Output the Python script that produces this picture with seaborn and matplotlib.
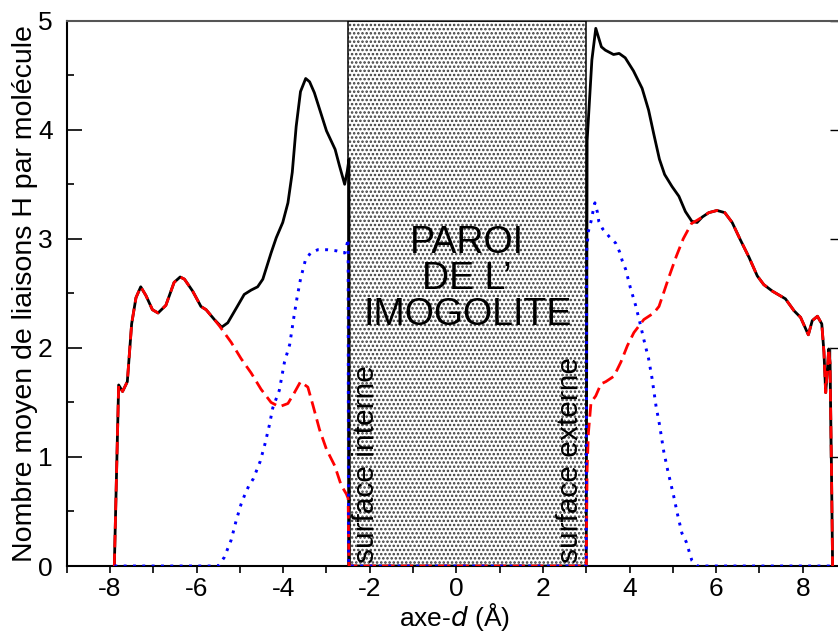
import matplotlib
matplotlib.use("Agg")
import matplotlib.pyplot as plt
from matplotlib.patches import Rectangle
import seaborn as sns
import pandas as pd

# --- données ---
# total (trait noir)
total_x = [-7.90, -7.80, -7.71, -7.60, -7.50, -7.40, -7.29, -7.17, -7.02, -6.89,
           -6.71, -6.52, -6.38, -6.28, -6.09, -5.90, -5.78, -5.59, -5.42, -5.28,
           -5.06, -4.90, -4.74, -4.59, -4.47, -4.28, -4.16, -4.01, -3.89, -3.79,
           -3.70, -3.60, -3.48, -3.39, -3.28, -3.12, -3.00, -2.80, -2.70, -2.58,
           -2.52, -2.48, -2.47, 3.00, 3.02, 3.13, 3.22, 3.35, 3.44, 3.63,
           3.76, 3.90, 4.09, 4.29, 4.44, 4.56, 4.69, 4.81, 4.98, 5.14,
           5.29, 5.44, 5.56, 5.68, 5.83, 6.02, 6.20, 6.37, 6.56, 6.76,
           6.95, 7.10, 7.30, 7.60, 7.80, 7.95, 8.13, 8.22, 8.34, 8.44,
           8.49, 8.53, 8.57, 8.60, 8.63, 8.66, 8.69]
total_y = [0.00, 1.66, 1.60, 1.69, 2.22, 2.46, 2.56, 2.48, 2.35, 2.32,
           2.39, 2.60, 2.65, 2.63, 2.52, 2.38, 2.35, 2.26, 2.19, 2.23,
           2.38, 2.49, 2.53, 2.56, 2.63, 2.87, 3.01, 3.15, 3.33, 3.61,
           4.03, 4.35, 4.47, 4.44, 4.34, 4.14, 3.99, 3.82, 3.67, 3.50,
           3.62, 3.73, 0.00, 0.00, 3.90, 4.64, 4.93, 4.76, 4.73, 4.69,
           4.70, 4.66, 4.54, 4.38, 4.18, 3.96, 3.73, 3.59, 3.48, 3.39,
           3.25, 3.16, 3.15, 3.20, 3.24, 3.26, 3.24, 3.15, 2.99, 2.83,
           2.66, 2.58, 2.52, 2.45, 2.34, 2.28, 2.12, 2.25, 2.29, 2.22,
           1.96, 1.59, 1.80, 1.99, 1.86, 1.01, 0.00]

# liaisons eau-eau (tirets rouges)
eau_x = [-7.90, -7.80, -7.71, -7.60, -7.50, -7.40, -7.29, -7.17, -7.02, -6.89,
         -6.71, -6.52, -6.38, -6.28, -6.09, -5.90, -5.78, -5.59, -5.47, -5.20,
         -4.97, -4.74, -4.51, -4.28, -4.09, -3.89, -3.74, -3.60, -3.43, -3.31,
         -3.16, -3.00, -2.81, -2.66, -2.54, -2.50, -2.48, 3.00, 3.02, 3.05,
         3.11, 3.22, 3.34, 3.45, 3.64, 3.80, 3.95, 4.10, 4.33, 4.56,
         4.68, 4.80, 4.91, 5.08, 5.24, 5.43, 5.56, 5.68, 5.83, 6.02,
         6.20, 6.37, 6.56, 6.76, 6.95, 7.10, 7.30, 7.60, 7.80, 7.95,
         8.13, 8.22, 8.34, 8.44, 8.49, 8.53, 8.57, 8.60, 8.63, 8.66, 8.69]
eau_y = [0.00, 1.66, 1.60, 1.69, 2.22, 2.46, 2.56, 2.48, 2.35, 2.32,
         2.39, 2.60, 2.65, 2.63, 2.52, 2.38, 2.35, 2.26, 2.20, 2.05,
         1.90, 1.77, 1.62, 1.50, 1.46, 1.49, 1.59, 1.69, 1.64, 1.47,
         1.25, 1.07, 0.92, 0.74, 0.66, 0.62, 0.00, 0.00, 0.89, 1.22,
         1.50, 1.56, 1.67, 1.69, 1.74, 1.87, 2.02, 2.14, 2.26, 2.32,
         2.38, 2.52, 2.65, 2.84, 3.00, 3.14, 3.17, 3.20, 3.24, 3.26,
         3.24, 3.15, 2.99, 2.83, 2.66, 2.58, 2.52, 2.45, 2.34, 2.28,
         2.12, 2.25, 2.29, 2.22, 1.96, 1.59, 1.80, 1.99, 1.86, 1.01, 0.00]

# liaisons eau-paroi (pointillés bleus)
paroi_x = [-7.90, -5.50, -5.36, -5.20, -5.09, -4.97, -4.90, -4.80, -4.69, -4.53,
           -4.42, -4.32, -4.24, -4.09, -3.97, -3.85, -3.75, -3.68, -3.60, -3.49,
           -3.37, -3.20, -2.98, -2.77, -2.58, -2.52, -2.50, -2.49, 3.00, 3.01,
           3.05, 3.11, 3.15, 3.20, 3.26, 3.29, 3.38, 3.53, 3.68, 3.77,
           3.83, 3.91, 4.02, 4.14, 4.24, 4.34, 4.44, 4.52, 4.61, 4.69,
           4.79, 4.88, 5.02, 5.11, 5.21, 5.31, 5.44, 5.56, 8.63]
paroi_y = [0.00, 0.00, 0.08, 0.24, 0.41, 0.57, 0.64, 0.73, 0.80, 0.96,
           1.12, 1.29, 1.45, 1.61, 1.87, 2.03, 2.29, 2.46, 2.63, 2.80,
           2.87, 2.90, 2.90, 2.89, 2.87, 2.96, 3.00, 0.00, 0.00, 2.90,
           3.07, 3.16, 3.24, 3.33, 3.24, 3.16, 3.09, 3.02, 2.96, 2.88,
           2.80, 2.72, 2.55, 2.39, 2.23, 2.06, 1.90, 1.72, 1.47, 1.30,
           1.05, 0.88, 0.64, 0.47, 0.30, 0.22, 0.05, 0.00, 0.00]

paroi_gauche, paroi_droite = -2.5, 3.0

df_total = pd.DataFrame({"d": total_x, "n": total_y})
df_eau = pd.DataFrame({"d": eau_x, "n": eau_y})
df_paroi = pd.DataFrame({"d": paroi_x, "n": paroi_y})

sns.set_style("ticks")
plt.rcParams["font.family"] = ["Liberation Sans", "DejaVu Sans"]
plt.rcParams["hatch.linewidth"] = 1.2
plt.rcParams["axes.unicode_minus"] = False
for k in ["text.color", "axes.labelcolor", "xtick.color", "ytick.color"]:
    plt.rcParams[k] = "black"

fig = plt.figure(figsize=(8.38, 6.34), dpi=100)
ax = fig.add_axes([66.7 / 838, 68 / 634, 775 / 838, 545.3 / 634])

# paroi de l'imogolite (zone pointillée)
ax.add_patch(Rectangle((paroi_gauche, 0), paroi_droite - paroi_gauche, 5,
                       facecolor="white", edgecolor="#3a3a3a", hatch="....",
                       linewidth=0, zorder=1))
ax.add_patch(Rectangle((paroi_gauche, 0), paroi_droite - paroi_gauche, 5,
                       fill=False, edgecolor="black", linewidth=1.1, zorder=4))

sns.lineplot(data=df_total, x="d", y="n", ax=ax, sort=False, estimator=None,
             color="black", linewidth=2.0, zorder=5)
sns.lineplot(data=df_eau, x="d", y="n", ax=ax, sort=False, estimator=None,
             color="red", linewidth=2.0, linestyle=(0, (4.5, 2.2)), zorder=6)
sns.lineplot(data=df_paroi, x="d", y="n", ax=ax, sort=False, estimator=None,
             color="blue", linewidth=2.1, linestyle=(0, (1, 2.2)), zorder=7)

ax.set_xlim(-9, 8.9)
ax.set_ylim(0, 5)
ax.set_xticks([-8, -6, -4, -2, 0, 2, 4, 6, 8])
ax.set_xticks(range(-9, 9), minor=True)
ax.set_yticks([0, 1, 2, 3, 4, 5])
ax.set_yticks([0.5, 1.5, 2.5, 3.5, 4.5], minor=True)
ax.tick_params(axis="x", which="both", direction="out", length=5, width=1.2,
               labelsize=19, pad=3)
ax.tick_params(axis="y", which="major", direction="in", length=11, width=1.2,
               labelsize=19, pad=10)
ax.tick_params(axis="y", which="minor", direction="in", length=5, width=1.2)

for s in ["left", "bottom"]:
    ax.spines[s].set_linewidth(1.5)
    ax.spines[s].set_color("black")
ax.spines["top"].set_color("#555555")
ax.spines["top"].set_linewidth(1.5)
ax.spines["right"].set_visible(False)

# graduations de droite (coupées par le bord)
sec = ax.secondary_yaxis((8.63 + 9) / 17.9)
sec.set_yticks([1, 2, 3, 4, 5])
sec.tick_params(direction="out", length=6, width=1.0, labelright=False)
sec.spines["right"].set_bounds(1, 2)
sec.spines["right"].set_linewidth(1.0)

ax.set_xlabel("axe-$d$ (Å)", fontsize=19, labelpad=0)
ax.set_ylabel("Nombre moyen de liaisons H par molécule", fontsize=20.5)
ax.yaxis.set_label_coords(-0.037, 0.5)

ax.text(0.25, 2.63, "PAROI\nDE L’\nIMOGOLITE", fontsize=27, ha="center",
        va="center", multialignment="center", linespacing=1.0, zorder=8)
ax.text(-2.09, 0.03, "surface interne", fontsize=21.5, rotation=90,
        ha="center", va="bottom", zorder=8)
ax.text(2.63, 0.03, "surface externe", fontsize=21.5, rotation=90,
        ha="center", va="bottom", zorder=8)

fig.savefig("out.png", dpi=100)
